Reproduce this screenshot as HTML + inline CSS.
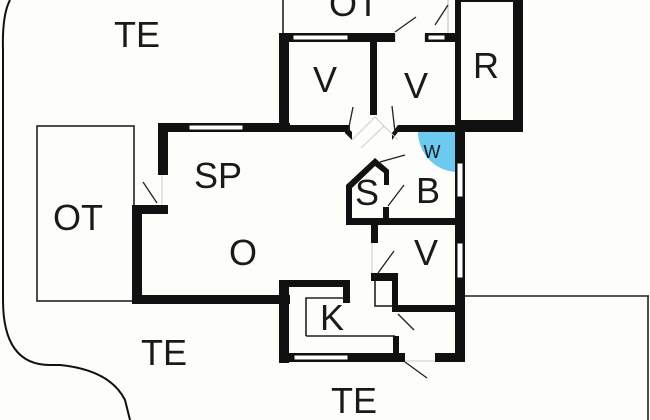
<!DOCTYPE html>
<html><head><style>
html,body{margin:0;padding:0;background:#fdfdf9;}
svg{display:block;}
text{font-family:"Liberation Sans",sans-serif;fill:#1a1a1a;}
</style></head><body>
<svg width="650" height="420" viewBox="0 0 650 420" xmlns="http://www.w3.org/2000/svg">
<rect width="650" height="420" fill="#fdfdf9"/>
<path d="M10 0 Q2 15 3 50 L3 300 Q3 365 50 365 L60 365 Q110 370 125 400 L130 420" fill="none" stroke="#111" stroke-width="2"/>
<g fill="none" stroke="#222" stroke-width="1.6">
<rect x="37" y="126" width="97" height="175"/>
<line x1="283" y1="0" x2="283" y2="34"/>
<line x1="465" y1="296" x2="649" y2="296"/>
<line x1="648" y1="296" x2="648" y2="420"/>
<polyline points="306,336 306,298 348,298"/>
<line x1="306" y1="336" x2="395" y2="336"/>
<rect x="375" y="280" width="19" height="26"/>
</g>
<g fill="none" stroke="#bbb" stroke-width="1">
<line x1="448" y1="0" x2="448" y2="33"/>
<line x1="395" y1="34" x2="395" y2="42"/><line x1="425" y1="34" x2="425" y2="42"/>
</g>
<path d="M458 132 L418 132 A40 40 0 0 0 458 172 Z" fill="#6cc9f0"/>
<g fill="#111">
<rect x="158" y="123" width="132" height="9"/>
<rect x="158" y="123" width="10" height="52"/>
<rect x="132" y="205" width="36" height="9"/>
<rect x="132" y="205" width="10" height="99"/>
<rect x="132" y="295" width="158" height="9"/>
<rect x="279" y="33" width="10" height="99"/>
<rect x="279" y="33" width="116" height="9"/>
<rect x="425" y="33" width="36" height="9"/>
<rect x="370" y="40" width="7" height="75"/>
<rect x="279" y="125" width="71" height="7"/>
<polygon points="345,125 352,132 352,140 345,133"/>
<rect x="398" y="125" width="67" height="7"/>
<polygon points="398,125 392,133 392,140 398,132"/>
<rect x="455" y="0" width="6" height="132"/>
<rect x="513" y="0" width="10" height="132"/>
<rect x="455" y="120" width="68" height="12"/>
<rect x="455" y="0" width="68" height="2"/>
<rect x="455" y="125" width="10" height="237"/>
<polygon points="346,222 346,185 375,158 389,170 389,185 384,185 384,173 375,166 352,188 352,222"/>
<rect x="383" y="207" width="6" height="16"/>
<rect x="346" y="218" width="115" height="7"/>
<rect x="371" y="222" width="7" height="21"/>
<rect x="371" y="273" width="27" height="8"/>
<rect x="392" y="273" width="6" height="39"/>
<rect x="392" y="305" width="70" height="7"/>
<rect x="279" y="280" width="10" height="83"/>
<rect x="279" y="280" width="71" height="7"/>
<rect x="343" y="280" width="7" height="23"/>
<rect x="279" y="353" width="126" height="9"/>
<rect x="393" y="336" width="6" height="20"/>
<rect x="435" y="353" width="30" height="9"/>
</g>
<g fill="#fff" stroke="#111" stroke-width="1">
<rect x="189" y="125" width="54" height="5"/>
<rect x="293" y="35" width="55" height="5"/>
<rect x="428" y="35" width="17" height="5"/>
<rect x="457" y="163" width="6" height="34"/>
<rect x="457" y="243" width="6" height="35"/>
<rect x="294" y="355" width="54" height="5"/>
</g>
<g stroke="#222" stroke-width="1.3">
<line x1="143" y1="182" x2="157" y2="203"/>
<line x1="395" y1="32" x2="416" y2="17"/>
<line x1="435" y1="25" x2="448" y2="5"/>
<line x1="348" y1="132" x2="353" y2="107"/>
<line x1="395" y1="132" x2="392" y2="106"/>
<line x1="380" y1="162" x2="405" y2="155"/>
<line x1="388" y1="206" x2="404" y2="185"/>
<line x1="378" y1="273" x2="394" y2="251"/>
<line x1="398" y1="314" x2="414" y2="330"/>
<line x1="405" y1="362" x2="427" y2="378"/>
</g>
<g stroke="#ccc" stroke-width="1" fill="none">
<polyline points="352,140 375,117 398,140"/>
<line x1="361" y1="148" x2="384" y2="126"/>
<line x1="372" y1="243" x2="372" y2="273"/>
<line x1="162" y1="175" x2="162" y2="205"/>
<line x1="405" y1="361" x2="435" y2="361"/>
</g>
<g font-size="36">
<text x="137" y="47" text-anchor="middle">TE</text>
<text x="354" y="16" text-anchor="middle">OT</text>
<text x="78" y="230" text-anchor="middle">OT</text>
<text x="218" y="188" text-anchor="middle">SP</text>
<text x="243" y="265" text-anchor="middle">O</text>
<text x="325" y="92" text-anchor="middle">V</text>
<text x="416" y="98" text-anchor="middle">V</text>
<text x="486" y="78" text-anchor="middle">R</text>
<text x="367" y="205" text-anchor="middle">S</text>
<text x="428" y="203" text-anchor="middle">B</text>
<text x="426" y="265" text-anchor="middle">V</text>
<text x="332" y="330" text-anchor="middle">K</text>
<text x="164" y="365" text-anchor="middle">TE</text>
<text x="354" y="413" text-anchor="middle">TE</text>
</g>
<text x="432" y="158" font-size="18" text-anchor="middle">W</text>
</svg>
</body></html>
